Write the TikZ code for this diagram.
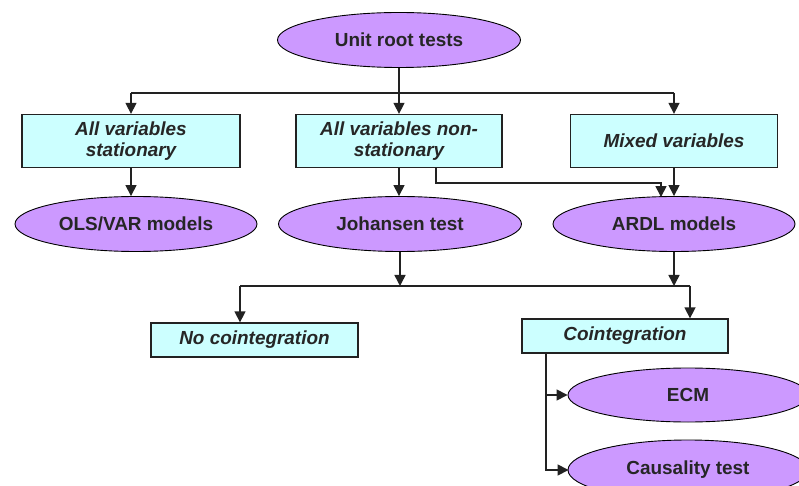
\documentclass[tikz,border=0pt]{standalone}
\usepackage{fontspec}
\setmainfont{Liberation Sans}
\usetikzlibrary{shapes.geometric,arrows.meta}
\definecolor{purp}{HTML}{CC99FF}
\definecolor{cyanb}{HTML}{CCFFFF}
\definecolor{edge}{HTML}{222222}
\begin{document}
\begin{tikzpicture}[x=1bp,y=-1bp,
  oval/.style={ellipse,draw=black,line width=0.9bp,fill=purp,inner sep=0pt,
    font=\fontsize{19}{21}\selectfont\bfseries,text=black!85},
  boxn/.style={rectangle,draw=edge,line width=1.3bp,fill=cyanb,inner sep=0pt,align=center,
    font=\fontsize{19}{21}\selectfont\bfseries\itshape,text=black!85},
  arr/.style={draw=edge,line width=1.5bp,-{Triangle[length=11bp,width=11bp]}},
  ln/.style={draw=edge,line width=1.5bp}]
\clip (0,0) rectangle (799,486);
\useasboundingbox (0,0) rectangle (799,486);
\fill[white] (0,0) rectangle (799,486);
% nodes
\node[oval,minimum width=243bp,minimum height=55bp] (unit) at (399,40) {Unit root tests};
\node[boxn,minimum width=218bp,minimum height=53bp] (b1) at (131,141) {All variables\\stationary};
\node[boxn,minimum width=206bp,minimum height=53bp] (b2) at (399,141) {All variables non-\\stationary};
\node[boxn,minimum width=207bp,minimum height=53bp] (b3) at (674,141) {Mixed variables};
\node[oval,minimum width=242bp,minimum height=55bp] (e1) at (136,224) {OLS/VAR models};
\node[oval,minimum width=243bp,minimum height=55bp] (e2) at (400,224) {Johansen test};
\node[oval,minimum width=242bp,minimum height=55bp] (e3) at (674,224) {ARDL models};
\node[boxn,minimum width=207bp,minimum height=34bp] (nc) at (254.5,340) {No cointegration};
\node[boxn,minimum width=206bp,minimum height=34bp] (co) at (625,336) {Cointegration};
\node[oval,minimum width=240bp,minimum height=54bp] (ecm) at (688,395) {ECM};
\node[oval,minimum width=240bp,minimum height=60bp] (caus) at (688,470) {Causality test};
% connectors top
\coordinate (hl) at (131,93);
\coordinate (hr) at (674,93);
\draw[ln] (hl) -- (hr);
\draw[arr] (b2.north |- unit.south) -- (b2.north);
\draw[arr] (hl) -- (b1.north);
\draw[arr] (hr) -- (b3.north);
\draw[arr] (b1.south) -- (b1.south |- e1.north);
\draw[arr] (b2.south) -- (b2.south |- e2.north);
\draw[arr] (b3.south) -- (e3.north);
\coordinate (k1) at (436,183);
\coordinate (k2) at (661,183);
\draw[arr] (b2.south -| k1) -- (k1) -- (k2) -- ([yshift=-1bp]k2 |- e3.north);
% lower connectors
\coordinate (ml) at (240,286);
\coordinate (mr) at (690,286);
\draw[ln] (ml) -- (mr);
\draw[arr] (e2.south) -- (e2.south |- ml);
\draw[arr] (e3.south) -- (e3.south |- ml);
\draw[arr] (ml) -- (ml |- nc.north);
\draw[arr] (mr) -- (mr |- co.north);
\coordinate (tr) at (546,353);
\draw[arr] (tr) |- (ecm.west);
\draw[arr] (tr) |- ([xshift=1bp]caus.west);
\end{tikzpicture}
\end{document}
